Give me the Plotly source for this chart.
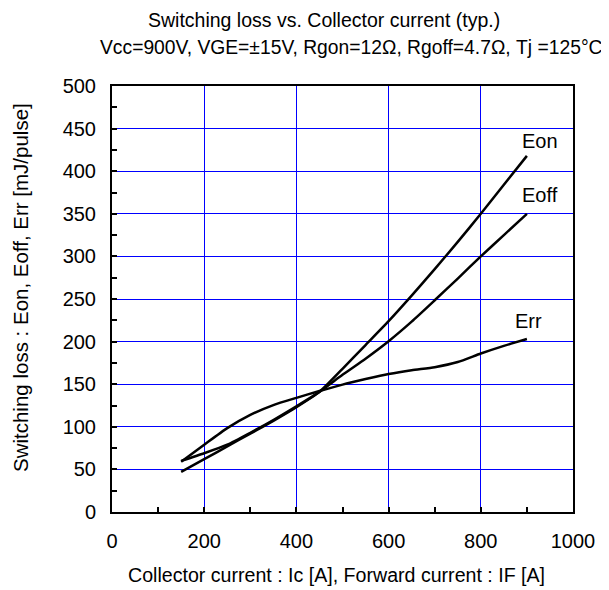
import plotly.graph_objects as go

# Data
current = [150, 200, 250, 300, 350, 400, 450, 500, 550, 600, 650, 700, 750, 800, 850, 900]
eon = [47, 62, 77, 92, 107, 123, 141, 168, 196, 224, 254, 285, 317, 350, 384, 418]
eoff = [60, 69, 79, 93, 108, 124, 141, 161, 180, 200.5, 223.5, 248.5, 274, 300, 325, 350]
err = [59, 79, 98.5, 114, 125.5, 134, 142, 149.5, 156, 162, 166.5, 170, 176, 186, 195, 203]

labels = ["Eon", "Eoff", "Err"]
label_x = [929, 929, 903]
label_y = [435, 372, 224]

x_ticks = [0, 200, 400, 600, 800, 1000]
y_ticks = [0, 50, 100, 150, 200, 250, 300, 350, 400, 450, 500]

FONT = "Liberation Sans, Arial, sans-serif"

fig = go.Figure()
for name, ys in zip(labels, [eon, eoff, err]):
    fig.add_trace(go.Scatter(x=current, y=ys, mode="lines", name=name,
                             line=dict(color="black", width=2.5, shape="spline", smoothing=0.6)))

for t, lx, ly in zip(labels, label_x, label_y):
    fig.add_annotation(x=lx, y=ly, text=t, showarrow=False, xref="x", yref="y",
                       xanchor="center", yanchor="middle",
                       font=dict(family=FONT, size=20, color="black"))

fig.add_annotation(x=0.459, y=1.155, xref="paper", yref="paper", showarrow=False,
                   xanchor="center", yanchor="middle",
                   text="Switching loss vs. Collector current (typ.)",
                   font=dict(family=FONT, size=19.5, color="black"))
fig.add_annotation(x=0.519, y=1.0915, xref="paper", yref="paper", showarrow=False,
                   xanchor="center", yanchor="middle",
                   text="Vcc=900V, VGE=±15V, Rgon=12Ω, Rgoff=4.7Ω, Tj =125°C",
                   font=dict(family=FONT, size=19.3, color="black"))
fig.add_annotation(x=0.486, y=-0.148, xref="paper", yref="paper", showarrow=False,
                   xanchor="center", yanchor="middle",
                   text="Collector current : Ic [A], Forward current : IF [A]",
                   font=dict(family=FONT, size=19.6, color="black"))
fig.add_annotation(x=-0.1997, y=0.528, xref="paper", yref="paper", showarrow=False,
                   xanchor="center", yanchor="middle", textangle=-90,
                   text="Switching loss : Eon, Eoff, Err [mJ/pulse]",
                   font=dict(family=FONT, size=20.5, color="black"))

fig.update_layout(
    width=601, height=582,
    margin=dict(l=104, r=36.3, t=78, b=78),
    paper_bgcolor="white", plot_bgcolor="white",
    showlegend=False,
    font=dict(family=FONT, size=20, color="black"),
)
fig.update_xaxes(range=[0, 1000], tickvals=x_ticks, ticks="inside", ticklen=5, tickwidth=1.5,
                 tickcolor="black", showgrid=True, gridcolor="#0000FF", gridwidth=1,
                 showline=True, linecolor="black", linewidth=2, mirror=True,
                 zeroline=False, ticklabelstandoff=10,
                 minor=dict(dtick=100, ticks="inside", ticklen=5, tickcolor="black", showgrid=False))
fig.update_yaxes(range=[0, 500], tickvals=y_ticks, ticks="inside", ticklen=5, tickwidth=1.5,
                 tickcolor="black", showgrid=True, gridcolor="#0000FF", gridwidth=1,
                 showline=True, linecolor="black", linewidth=2, mirror=True,
                 zeroline=False, ticklabelstandoff=10,
                 minor=dict(dtick=25, ticks="inside", ticklen=5, tickcolor="black", showgrid=False))

fig.write_html("out.html")
